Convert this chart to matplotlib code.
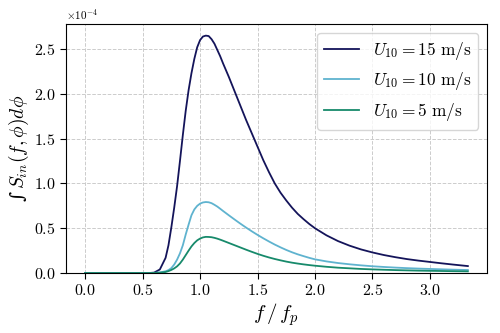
import numpy as np
import matplotlib
matplotlib.use("Agg")
import matplotlib.pyplot as plt

plt.rcParams['mathtext.fontset'] = 'cm'
plt.rcParams['font.family'] = 'serif'
plt.rcParams['font.serif'] = ['cmr10', 'DejaVu Serif']
plt.rcParams['axes.formatter.use_mathtext'] = True
plt.rcParams['axes.unicode_minus'] = False

# f / f_p
x = [0.0, 0.1, 0.2, 0.3, 0.4, 0.5, 0.55, 0.6, 0.65, 0.7,
     0.725, 0.75, 0.775, 0.8, 0.825, 0.85, 0.875, 0.9, 0.925, 0.95, 0.975, 1.0, 1.025, 1.05,
     1.075, 1.1, 1.125, 1.15, 1.175, 1.2,
     1.25, 1.3, 1.35, 1.4, 1.45, 1.5, 1.55, 1.6, 1.65, 1.7, 1.75, 1.8, 1.85, 1.9, 1.95, 2.0,
     2.1, 2.2, 2.3, 2.4, 2.5, 2.6, 2.7, 2.8, 2.9, 3.0, 3.1, 3.2, 3.33]

# values in units of 1e-4
u15 = [0, 0, 0, 0, 0, 0, 0, 0.005, 0.04, 0.17,
       0.31, 0.51, 0.73, 0.97, 1.25, 1.54, 1.81, 2.04, 2.23, 2.39, 2.52, 2.60, 2.64, 2.65,
       2.645, 2.61, 2.56, 2.49, 2.42, 2.34,
       2.19, 2.03, 1.87, 1.71, 1.56, 1.41, 1.26, 1.125, 1.0, 0.897, 0.81, 0.73, 0.66, 0.602, 0.548, 0.50,
       0.421, 0.357, 0.306, 0.264, 0.23, 0.201, 0.177, 0.156, 0.139, 0.124, 0.109, 0.095, 0.078]
u10 = [0, 0, 0, 0, 0, 0, 0, 0.002, 0.007, 0.02,
       0.033, 0.055, 0.095, 0.15, 0.22, 0.31, 0.43, 0.54, 0.645, 0.71, 0.75, 0.775, 0.788, 0.793,
       0.79, 0.78, 0.762, 0.742, 0.718, 0.693,
       0.645, 0.598, 0.552, 0.508, 0.466, 0.426, 0.388, 0.352, 0.318, 0.287, 0.258, 0.232, 0.209, 0.189, 0.17, 0.153,
       0.13, 0.112, 0.098, 0.086, 0.076, 0.068, 0.061, 0.055, 0.05, 0.046, 0.042, 0.038, 0.034]
u5 = [0, 0, 0, 0, 0, 0, 0, 0.001, 0.004, 0.012,
      0.022, 0.035, 0.052, 0.075, 0.107, 0.15, 0.2, 0.25, 0.297, 0.335, 0.365, 0.385, 0.398, 0.404,
      0.403, 0.40, 0.393, 0.384, 0.373, 0.361,
      0.336, 0.311, 0.286, 0.261, 0.237, 0.214, 0.193, 0.174, 0.157, 0.142, 0.128, 0.116, 0.106, 0.097, 0.089, 0.082,
      0.07, 0.06, 0.053, 0.046, 0.041, 0.037, 0.033, 0.03, 0.027, 0.025, 0.023, 0.021, 0.019]

labels = [r'$U_{10} = 15\ \mathrm{m/s}$', r'$U_{10} = 10\ \mathrm{m/s}$', r'$U_{10} = 5\ \mathrm{m/s}$']
colors = ['#14145a', '#5fb3cf', '#178a6b']

fig = plt.figure(figsize=(5, 3.33), dpi=100)
ax = fig.add_axes([0.132, 0.18, 0.842, 0.748])

for ys, lab, c in zip([u15, u10, u5], labels, colors):
    ax.plot(x, np.array(ys) * 1e-4, color=c, lw=1.3, label=lab)

ax.set_ylim(0, 2.78e-4)
ax.set_xticks([0.0, 0.5, 1.0, 1.5, 2.0, 2.5, 3.0])
ax.ticklabel_format(axis='y', style='sci', scilimits=(0, 0))
ax.grid(True, linestyle='--', color='#cccccc', lw=0.7)
ax.tick_params(labelsize=11.5, direction='out', length=4)
ax.yaxis.get_offset_text().set_fontsize(8)
ax.set_xlabel(r'$f\,/\,f_p$', fontsize=15)
ax.set_ylabel('\u222b' + r'$\,S_{in}(f,\phi)d\phi$', fontsize=14,
              fontfamily=['DejaVu Serif'])
ax.yaxis.set_label_coords(-0.082, 0.5)
ax.xaxis.set_label_coords(0.5, -0.115)
leg = ax.legend(loc='upper right', fontsize=12.5, framealpha=0.8, edgecolor='#cccccc',
                handlelength=2.0)

fig.savefig('out.png', dpi=100)
